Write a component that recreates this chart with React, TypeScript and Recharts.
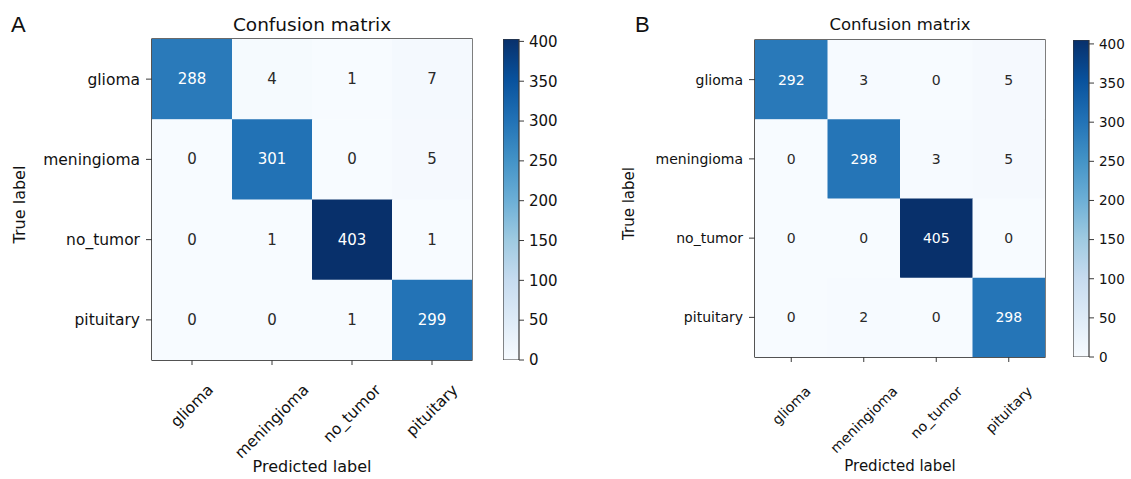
import React from 'react';
import { ScatterChart, Scatter, XAxis, YAxis, ReferenceArea, BarChart, Bar } from 'recharts';

// ---------- data ----------
const classLabels = ['glioma', 'meningioma', 'no_tumor', 'pituitary'];
const matrixA = [
  [288, 4, 1, 7],
  [0, 301, 0, 5],
  [0, 1, 403, 1],
  [0, 0, 1, 299],
];
const matrixB = [
  [292, 3, 0, 5],
  [0, 298, 3, 5],
  [0, 0, 405, 0],
  [0, 2, 0, 298],
];
const colorbarTicks = [0, 50, 100, 150, 200, 250, 300, 350, 400];
const panelLetters = ['A', 'B'];
const titleText = 'Confusion matrix';
const xLabelText = 'Predicted label';
const yLabelText = 'True label';

// matplotlib "Blues" colormap anchors
const BLUES = ['#f7fbff', '#deebf7', '#c6dbef', '#9ecae1', '#6baed6', '#4292c6', '#2171b5', '#08519c', '#08306b'];

const W = 1131;
const H = 479;
const FONT = '"DejaVu Sans", "Liberation Sans", sans-serif';

function hexToRgb(h: string) {
  return [parseInt(h.slice(1, 3), 16), parseInt(h.slice(3, 5), 16), parseInt(h.slice(5, 7), 16)];
}
function blues(t: number) {
  const c = Math.max(0, Math.min(1, t)) * (BLUES.length - 1);
  const i = Math.min(BLUES.length - 2, Math.floor(c));
  const f = c - i;
  const a = hexToRgb(BLUES[i]);
  const b = hexToRgb(BLUES[i + 1]);
  const m = a.map((v, k) => Math.round(v + (b[k] - v) * f));
  return `rgb(${m[0]},${m[1]},${m[2]})`;
}

let ctx: CanvasRenderingContext2D | null = null;
function textWidth(s: string, fs: number) {
  try {
    if (!ctx) ctx = document.createElement('canvas').getContext('2d');
    if (ctx) {
      ctx.font = `${fs}px "DejaVu Sans"`;
      return ctx.measureText(s).width;
    }
  } catch (e) {}
  return s.length * 0.62 * fs;
}

type Layout = {
  chartLeft: number;
  boxL: number; boxT: number; boxR: number; boxB: number;
  cbL: number; cbR: number;
  letterX: number; trueX: number; xTickTop: number; predY: number;
  fsTick: number; fsCell: number; fsTitle: number; fsLabel: number; fsCb: number;
};

const layouts: Layout[] = [
  {
    chartLeft: 0, boxL: 152, boxT: 39, boxR: 472, boxB: 360, cbL: 503, cbR: 519,
    letterX: 11, trueX: 19, xTickTop: 381, predY: 466,
    fsTick: 15.5, fsCell: 15, fsTitle: 18.5, fsLabel: 16, fsCb: 15,
  },
  {
    chartLeft: 560, boxL: 755, boxT: 40, boxR: 1045, boxB: 357, cbL: 1073, cbR: 1089,
    letterX: 635, trueX: 629, xTickTop: 383, predY: 466,
    fsTick: 14, fsCell: 14, fsTitle: 16.5, fsLabel: 15, fsCb: 13.5,
  },
];

const SPINE = '#3a3a3a';

function Panel({ matrix, layout, idx }: { matrix: number[][]; layout: Layout; idx: number }) {
  const L = layout;
  const maxV = Math.max(...matrix.flat());
  const points = matrix.flatMap((row, r) => row.map((v, c) => ({ x: c, y: r, v })));
  const cw = (L.boxR - L.boxL) / classLabels.length;
  const ch = (L.boxB - L.boxT) / classLabels.length;
  const chartW = L.boxR + 14 - L.chartLeft;
  const gradId = `cbgrad${idx}`;

  const shape = (props: any) => {
    const { cx, cy, payload } = props;
    const v = payload.v;
    return (
      <g>
        <rect x={cx - cw / 2} y={cy - ch / 2} width={cw + 0.5} height={ch + 0.5} fill={blues(v / maxV)} />
        <text
          x={cx}
          y={cy}
          textAnchor="middle"
          dominantBaseline="central"
          fontSize={L.fsCell}
          fontFamily={FONT}
          fill={v > maxV / 2 ? '#ffffff' : '#2a2a2a'}
        >
          {v}
        </text>
      </g>
    );
  };

  const xTick = (props: any) => {
    const { x, y, payload } = props;
    const label = classLabels[payload.value];
    const w = textWidth(label, L.fsTick);
    const h = L.fsTick * 1.16;
    const half = (w + h) / (2 * Math.SQRT2);
    return (
      <text
        transform={`translate(${x},${y + half}) rotate(-45)`}
        textAnchor="middle"
        dominantBaseline="central"
        fontSize={L.fsTick}
        fontFamily={FONT}
        fill="#111"
      >
        {label}
      </text>
    );
  };

  const boxCx = (L.boxL + L.boxR) / 2;
  const boxCy = (L.boxT + L.boxB) / 2;

  return (
    <>
      <svg width={0} height={0} style={{ position: 'absolute' }}>
        <defs>
          <linearGradient id={gradId} x1="0" y1="1" x2="0" y2="0">
            {BLUES.map((c, i) => (
              <stop key={i} offset={i / (BLUES.length - 1)} stopColor={c} />
            ))}
          </linearGradient>
        </defs>
      </svg>

      <div style={{ position: 'absolute', left: L.chartLeft, top: 0 }}>
        <ScatterChart
          width={chartW}
          height={H}
          margin={{ top: L.boxT, right: 14, bottom: 0, left: 0 }}
        >
          <XAxis
            dataKey="x"
            type="number"
            domain={[-0.5, classLabels.length - 0.5]}
            ticks={classLabels.map((_, i) => i)}
            allowDataOverflow
            height={H - L.boxB}
            tickSize={5}
            tickMargin={L.xTickTop - L.boxB - 5}
            tick={xTick}
            interval={0}
            axisLine={{ stroke: SPINE, strokeWidth: 1.2 }}
            tickLine={{ stroke: SPINE, strokeWidth: 1 }}
          />
          <YAxis
            dataKey="y"
            type="number"
            reversed
            domain={[-0.5, classLabels.length - 0.5]}
            ticks={classLabels.map((_, i) => i)}
            allowDataOverflow
            width={L.boxL - L.chartLeft}
            tickSize={6}
            tickMargin={6}
            interval={0}
            tickFormatter={(v: number) => classLabels[v]}
            tick={{ fontSize: L.fsTick, fontFamily: FONT, fill: '#111' }}
            axisLine={{ stroke: SPINE, strokeWidth: 1.2 }}
            tickLine={{ stroke: SPINE, strokeWidth: 1 }}
          />
          <Scatter data={points} shape={shape} isAnimationActive={false} />
          <ReferenceArea
            x1={-0.5}
            x2={classLabels.length - 0.5}
            y1={-0.5}
            y2={classLabels.length - 0.5}
            fill="none"
            fillOpacity={0}
            stroke={SPINE}
            strokeWidth={1.3}
            ifOverflow="visible"
          />
        </ScatterChart>
      </div>

      <div style={{ position: 'absolute', left: L.cbL, top: 0 }}>
        <BarChart
          width={L.cbR - L.cbL + 50}
          height={H}
          data={[{ k: 'cb', v: maxV }]}
          margin={{ top: L.boxT, right: 0, bottom: H - L.boxB, left: 0 }}
          barCategoryGap={0}
        >
          <XAxis dataKey="k" hide />
          <YAxis
            orientation="right"
            type="number"
            domain={[0, maxV]}
            allowDataOverflow
            ticks={colorbarTicks}
            interval={0}
            width={50}
            tickSize={5}
            tickMargin={5}
            axisLine={false}
            tick={{ fontSize: L.fsCb, fontFamily: FONT, fill: '#111', textAnchor: 'start' }}
            tickLine={{ stroke: SPINE, strokeWidth: 1 }}
          />
          <Bar dataKey="v" fill={`url(#${gradId})`} stroke={SPINE} strokeWidth={1.2} isAnimationActive={false} />
        </BarChart>
      </div>

      <svg width={W} height={H} style={{ position: 'absolute', left: 0, top: 0, pointerEvents: 'none' }}>
        <text x={L.letterX} y={32} fontSize={22} fontFamily='"Liberation Sans", Arial, sans-serif' fill="#111">
          {panelLetters[idx]}
        </text>
        <text x={boxCx} y={24} textAnchor="middle" dominantBaseline="central" fontSize={L.fsTitle} fontFamily={FONT} fill="#111">
          {titleText}
        </text>
        <text x={boxCx} y={L.predY} textAnchor="middle" dominantBaseline="central" fontSize={L.fsLabel} fontFamily={FONT} fill="#111">
          {xLabelText}
        </text>
        <text
          transform={`translate(${L.trueX},${boxCy + 5}) rotate(-90)`}
          textAnchor="middle"
          dominantBaseline="central"
          fontSize={L.fsLabel}
          fontFamily={FONT}
          fill="#111"
        >
          {yLabelText}
        </text>
      </svg>
    </>
  );
}

export default function App() {
  return (
    <div style={{ position: 'absolute', left: 0, top: 0, width: W, height: H, background: '#ffffff', overflow: 'hidden' }}>
      <Panel matrix={matrixA} layout={layouts[0]} idx={0} />
      <Panel matrix={matrixB} layout={layouts[1]} idx={1} />
    </div>
  );
}
